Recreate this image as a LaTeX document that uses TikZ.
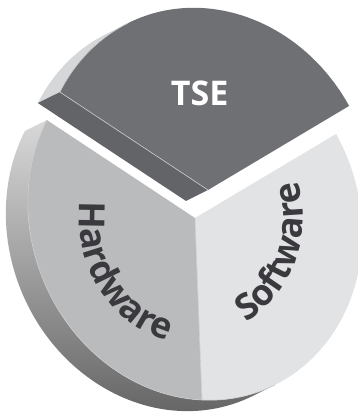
\documentclass[tikz,border=0pt]{standalone}
\usepackage{fontspec}
\setmainfont{Open Sans}
\usetikzlibrary{decorations.text}

\definecolor{tsegray}{RGB}{111,112,116}
\definecolor{tsecut}{RGB}{99,100,104}
\definecolor{rimlight}{RGB}{214,215,217}
\definecolor{hwgray}{RGB}{186,187,189}
\definecolor{swgray}{RGB}{226,227,229}
\definecolor{labeldark}{RGB}{58,58,62}
\newcommand{\slicefont}{\fontsize{34}{34}\selectfont\bfseries}
\newcommand{\arcfont}{\fontsize{36}{36}\selectfont\bfseries}

\begin{document}
\begin{tikzpicture}[x=1pt, y=1pt]
        \tikzstyle{disk} = [cm={167,-8,-7,182,(195pt,195pt)}]
        \tikzstyle{tsedisk} = [cm={167,-8,-7,182,(208pt,223pt)}]
        \tikzstyle{rim} = [white!80!black, line width=0.6pt]
        \tikzstyle{slicetext} = [decorate, decoration={text along path, text align=center, text color=labeldark}]
        \useasboundingbox (0,0) rectangle (358,413);

        % hardware and software
        \begin{scope}[disk]
          \shade[top color=black!15, middle color=black!45, bottom color=black!62]
            (150:1) -- ++(-0.1345,-0.0662) arc[start angle=150, end angle=296.2, radius=1]
            -- ++(0.1345,0.0662) arc[start angle=296.2, end angle=150, radius=1] -- cycle;
          \fill[hwgray] (0,0) -- (150:1) arc[start angle=150, end angle=270, radius=1] -- cycle;
          \fill[swgray] (0,0) -- (270:1) arc[start angle=270, end angle=390, radius=1] -- cycle;
          \draw[rim] (150:1) arc[start angle=150, end angle=296.2, radius=1];
          \draw[rim] (0,0) -- (270:1);
          \coordinate (mid) at (0,0);
        \end{scope}

        % tse, pulled out
        \begin{scope}[tsedisk]
          \fill[rimlight] (150:1) -- ++(-0.1345,-0.0662) arc[start angle=150, end angle=116.2, radius=1]
            -- ++(0.1345,0.0662) arc[start angle=116.2, end angle=150, radius=1] -- cycle;
          \fill[tsecut] (0,0) -- (150:1) -- ++(-0.1345,-0.0662) -- (-0.1345,-0.0662) -- cycle;
          \fill[tsegray] (0,0) -- (30:1) arc[start angle=30, end angle=150, radius=1] -- cycle;
          \draw[rim] (0,0) -- (150:1) arc[start angle=150, end angle=116.2, radius=1];
          \node[font=\slicefont, text=white] (tse) at (93:0.53) {TSE};
        \end{scope}

        \path[slicetext, decoration={text={|\arcfont|Hardware}}]
          (mid) ++(160:116 and 126) arc[start angle=160, end angle=270, x radius=116, y radius=126];
        \path[slicetext, decoration={text={|\arcfont|Software}}]
          (mid) ++(288:108 and 118) arc[start angle=288, end angle=388, x radius=108, y radius=118];
\end{tikzpicture}
\end{document}
